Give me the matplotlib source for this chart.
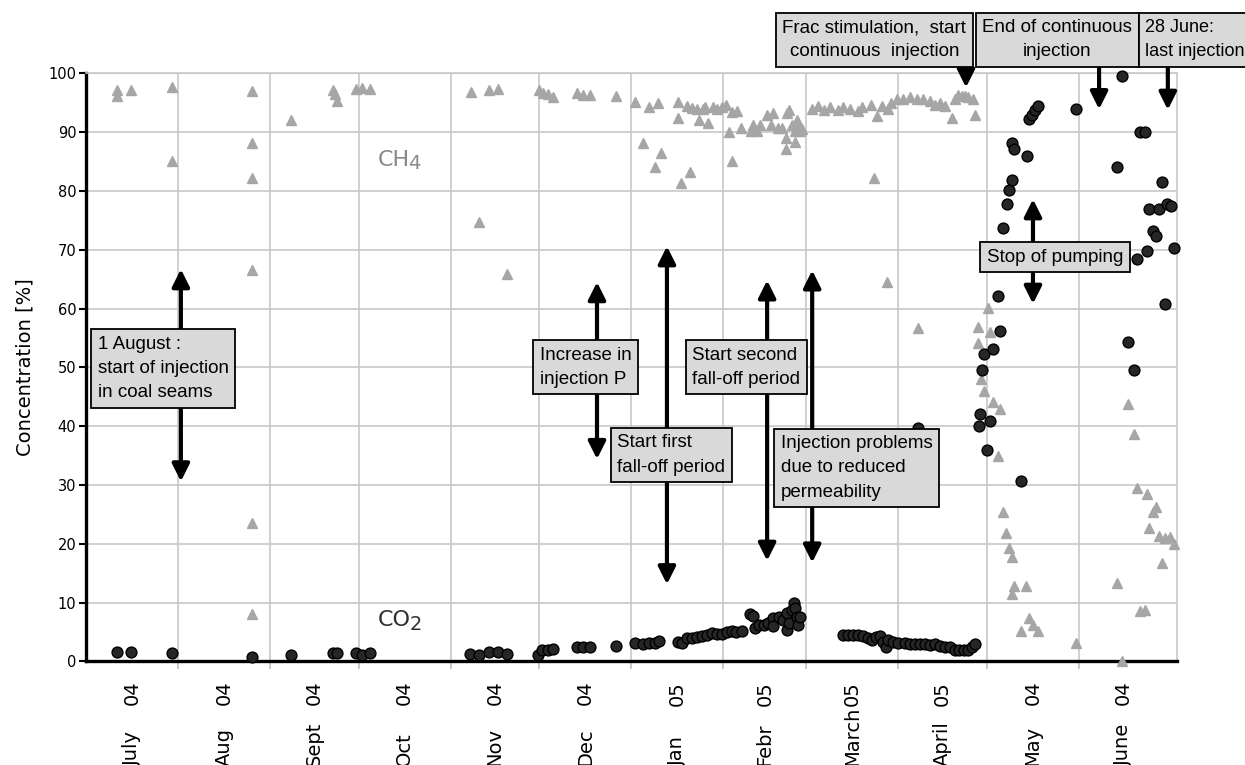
import numpy as np
import matplotlib
matplotlib.use('Agg')
import matplotlib.pyplot as plt
import matplotlib.dates as mdates
from datetime import datetime

# gas composition, days counted from 1 July 2004
ch4_day = [10.6, 10.6, 15.1,
           28.9, 28.9, 55.9, 55.9, 55.9, 55.9, 55.9, 55.9,
           69.1, 83.4, 83.9, 84.8, 91.1, 93.0, 95.8,
           129.8, 132.7, 136.1, 139.1, 142.1,
           152.8, 154.1, 155.8, 157.7, 165.8, 167.8, 170.0, 178.8,
           185.2, 188.0, 190.0, 192.0, 193.0, 194.0, 199.8, 199.8, 200.8, 202.7, 203.8,
           204.4, 206.0, 206.7, 208.0, 208.7, 210.0, 211.7, 213.0, 214.5, 216.0,
           217.0, 218.0, 218.0, 219.5, 220.9, 224.2, 225.2, 226.5, 227.4, 229.7, 231.0,
           231.7, 233.6, 234.7, 236.2, 236.2, 236.4, 237.3, 238.1, 239.2, 239.2, 239.8,
           240.3, 240.9, 241.5,
           245.0, 247.0, 249.0, 251.0, 253.7, 255.5, 257.8, 260.6, 261.7, 264.7, 266.0,
           266.8, 268.5, 270.2, 270.7, 271.5, 273.5,
           275.8, 278.0, 280.2, 280.7, 282.5, 284.7, 286.4, 288.1, 289.8, 292.1, 293.2,
           294.3, 295.4, 296.5, 297.7, 299.4, 300.0,
           300.9, 300.9, 302.0, 303.1, 304.2, 305.1, 306.0, 307.6, 308.5, 309.3, 310.4,
           311.5, 312.3, 312.3, 313.2, 315.5, 317.3, 318.3, 319.4, 321.3, 333.9,
           347.8, 349.6, 351.5, 353.7, 354.6, 355.5, 357.2, 357.9, 358.8, 360.0, 361.1,
           361.9, 363.0, 363.9, 365.6, 367.0]
ch4_pct = [97.2, 96.1, 97.1,
           97.6, 85.1, 97.0, 88.1, 82.2, 66.6, 23.5, 8.0,
           92.1, 97.2, 96.5, 95.3, 97.4, 97.5, 97.4,
           96.9, 74.8, 97.1, 97.3, 65.9,
           97.2, 96.7, 96.5, 95.9, 96.7, 96.4, 96.4, 96.1,
           95.1, 88.2, 94.3, 84.0, 94.9, 86.5, 95.1, 92.4, 81.3, 94.5, 83.3,
           94.1, 93.9, 92.1, 93.9, 94.2, 91.5, 94.2, 93.9, 94.3, 94.7,
           90.0, 93.4, 85.1, 93.6, 90.7, 90.2, 91.3, 90.2, 91.3, 93.0, 91.3,
           93.3, 90.7, 90.7, 89.0, 87.2, 93.3, 93.8, 91.3, 88.3, 90.2, 92.1,
           90.7, 90.2, 90.5,
           94.0, 94.5, 93.8, 94.3, 93.8, 94.3, 93.9, 93.6, 94.2, 94.7, 82.2,
           92.8, 94.5, 64.6, 93.9, 95.0, 95.6,
           95.6, 95.9, 95.6, 56.7, 95.6, 95.3, 94.7, 95.0, 94.5, 92.4, 95.6,
           96.3, 96.1, 96.1, 95.9, 95.6, 93.0,
           56.8, 54.1, 48.1, 46.0, 60.1, 56.0, 44.1, 35.0, 43.0, 25.4, 21.9,
           19.3, 17.8, 11.5, 12.8, 5.1, 12.8, 7.3, 6.2, 5.1, 3.2,
           13.4, 0.0, 43.7, 38.6, 29.4, 8.6, 8.7, 28.5, 22.7, 25.4, 26.3,
           21.3, 16.8, 20.9, 21.2, 19.9]

co2_day = [10.6, 15.1, 28.9, 55.9, 69.1, 83.4, 84.8, 91.1, 93.0, 95.8,
           129.6, 132.7, 136.1, 139.1, 142.1,
           152.6, 153.7, 155.8, 157.7, 165.8, 167.8, 170.0, 178.8,
           185.2, 187.8, 190.0, 192.0, 193.4, 199.8, 201.0, 202.7, 204.4, 206.0, 207.7,
           209.4, 211.1, 212.8, 214.5,
           216.2, 217.9, 219.3, 221.2, 224.0, 224.9, 225.7, 227.2, 228.7, 230.2, 231.7,
           231.9, 233.9, 235.3, 236.4, 236.6, 237.3, 238.1, 238.9, 239.2, 239.8, 240.3,
           240.9,
           255.5, 257.2, 258.9, 260.6, 262.3, 264.0, 265.1, 266.5, 267.9, 269.0, 269.9,
           270.7, 272.4, 274.0, 276.3, 278.0, 279.7, 280.6, 281.4, 283.1, 284.8, 286.4,
           288.1, 289.8, 291.5, 293.2, 294.6, 296.2, 297.7, 298.8, 300.0,
           301.4, 301.5, 302.2, 303.1, 304.0, 305.1, 306.0, 307.6, 308.5, 309.3, 310.7,
           311.5, 312.3, 312.3, 313.2, 315.5, 317.5, 318.3, 319.1, 320.2, 321.3, 333.9,
           347.8, 349.5, 351.5, 353.7, 354.6, 355.5, 357.2, 357.9, 358.8, 360.0, 361.1,
           361.9, 363.0, 363.9, 364.7, 366.2, 367.0]
co2_pct = [1.6, 1.6, 1.4, 0.7, 1.1, 1.4, 1.4, 1.4, 1.1, 1.4,
           1.2, 1.0, 1.6, 1.6, 1.2,
           1.1, 1.9, 1.9, 2.1, 2.4, 2.4, 2.4, 2.6,
           3.1, 3.0, 3.2, 3.1, 3.5, 3.3, 3.2, 3.9, 3.9, 4.1, 4.3,
           4.5, 4.9, 4.7, 4.7,
           5.0, 5.2, 5.0, 5.2, 8.0, 7.7, 5.6, 6.2, 6.2, 6.5, 7.3,
           6.0, 7.5, 7.1, 5.4, 8.2, 6.6, 8.7, 10.0, 9.0, 7.6, 6.2,
           7.6,
           4.5, 4.5, 4.5, 4.5, 4.3, 3.9, 3.6, 4.2, 4.3, 3.3, 2.5,
           3.6, 3.3, 3.2, 3.2, 2.9, 3.0, 39.7, 2.9, 2.9, 2.8, 2.9,
           2.6, 2.5, 2.4, 2.0, 2.0, 2.0, 2.0, 2.4, 2.9,
           40.0, 42.1, 49.5, 52.2, 35.9, 40.8, 53.1, 62.1, 56.1, 73.7, 77.7,
           80.2, 81.9, 88.2, 87.1, 30.7, 85.9, 92.3, 93.0, 93.8, 94.4, 94.0,
           84.1, 99.6, 54.3, 49.5, 68.5, 90.0, 90.0, 69.8, 76.9, 73.2, 72.4,
           76.9, 81.6, 60.7, 77.7, 77.4, 70.3]

month_names = ['July', 'Aug', 'Sept', 'Oct', 'Nov', 'Dec',
               'Jan', 'Febr', 'March', 'April', 'May', 'June']
year_labels = ['04', '04', '04', '04', '04', '04',
               '05', '05', '05', '05', '04', '04']
month_start = [0, 31, 62, 92, 123, 153, 184, 215, 243, 274, 304, 335, 365]

t0 = mdates.date2num(datetime(2004, 7, 1))
ch4_x = t0 + np.array(ch4_day)
co2_x = t0 + np.array(co2_day)
bounds = t0 + np.array(month_start)
mids = (bounds[:-1] + bounds[1:]) / 2

note_font = ['Liberation Sans', 'DejaVu Sans']
box = dict(boxstyle='square,pad=0.35', fc='#d9d9d9', ec='black', lw=1.3)

fig = plt.figure(figsize=(12.45, 7.65), dpi=100)
ax = fig.add_axes([0.0691, 0.1355, 0.8763, 0.7686])

ax.plot(ch4_x, ch4_pct, ls='none', marker='^', ms=7, color='#a6a6a6',
        mec='#a6a6a6', zorder=3, clip_on=False)
ax.plot(co2_x, co2_pct, ls='none', marker='o', ms=7.8, color='#262626',
        mec='black', mew=1.0, zorder=3, clip_on=False)

ax.set_xlim(t0, t0 + 368.1)
ax.set_ylim(0, 100)
ax.set_yticks(range(0, 101, 10))
ax.set_xticks(bounds[1:-1])
ax.set_xticklabels([])
ax.set_xticks(mids, minor=True)
ax.set_xticklabels(year_labels, minor=True, rotation=90, fontsize=14)
ax.tick_params(axis='x', which='major', length=6, color='#bfbfbf', width=1.2)
ax.tick_params(axis='x', which='minor', length=0, pad=14)
ax.tick_params(axis='y', length=5, width=1.5, pad=2, labelsize=10.5)
ax.grid(True, which='major', color='#c8c8c8', lw=1.2, zorder=0)
ax.set_axisbelow(True)

for side in ['left', 'bottom']:
    ax.spines[side].set_linewidth(2.4)
for side in ['top', 'right']:
    ax.spines[side].set_color('#c8c8c8')
    ax.spines[side].set_linewidth(1.2)

ax.set_ylabel('Concentration [%]', fontsize=14, labelpad=10)

# month names sit below the year, cut by the page edge
for m, name in zip(mids, month_names):
    ax.annotate(name, xy=(m, 0), xycoords=('data', 'axes fraction'),
                xytext=(0, -75.5), textcoords='offset points', rotation=90,
                ha='center', va='bottom', fontsize=14, annotation_clip=False)

ax.text(t0 + 98.5, 85.3, 'CH', fontsize=16, color='#8a8a8a', va='center')
ax.text(t0 + 108.8, 84.6, '4', fontsize=14, color='#8a8a8a', va='center')
ax.text(t0 + 98.5, 7.0, 'CO', fontsize=16, color='#303030', va='center')
ax.text(t0 + 109.3, 6.3, '2', fontsize=14, color='#303030', va='center')


def arrow(day, y0, y1):
    ax.annotate('', xy=(t0 + day, y1), xytext=(t0 + day, y0),
                arrowprops=dict(arrowstyle='-|>', lw=3, color='black',
                                mutation_scale=26, shrinkA=0, shrinkB=0),
                zorder=4, annotation_clip=False)


def note(day, y, text, ha='left', ma='left', size=13.5):
    ax.text(t0 + day, y, text, ha=ha, va='center', multialignment=ma,
            fontsize=size, family=note_font, linespacing=1.55, bbox=box,
            zorder=5, clip_on=False)


# 1 August
arrow(32.0, 50, 66.7)
arrow(32.0, 50, 30.6)
note(4.0, 49.8, '1 August :\nstart of injection\nin coal seams')

# increase in injection pressure
arrow(172.4, 50, 64.5)
arrow(172.4, 50, 34.4)
note(153.1, 50.0, 'Increase in\ninjection P')

# first fall-off
arrow(196.0, 35, 70.6)
arrow(196.0, 35, 13.1)
note(179.3, 35.1, 'Start first\nfall-off period')

# second fall-off
arrow(229.8, 50, 64.8)
arrow(229.8, 50, 17.1)
note(204.5, 50.0, 'Start second\nfall-off period')

# injection problems
arrow(245.0, 33, 66.5)
arrow(245.0, 33, 16.8)
note(234.5, 32.9, 'Injection problems\ndue to reduced\npermeability')

# frac stimulation
arrow(296.9, 105, 97.6)
note(297.0, 105.7, 'Frac stimulation,  start\ncontinuous  injection',
     ha='right', ma='center')

# end of continuous injection
arrow(341.8, 105, 93.9)
note(302.4, 105.7, 'End of continuous\ninjection', ma='center')

# last injection
arrow(365.0, 105, 93.8)
note(357.3, 105.7, '28 June:\nlast injection', size=13)

# stop of pumping
arrow(319.5, 68.7, 78.6)
arrow(319.5, 68.7, 60.8)
note(304.0, 68.7, 'Stop of pumping')

fig.savefig('out.png', dpi=100)
